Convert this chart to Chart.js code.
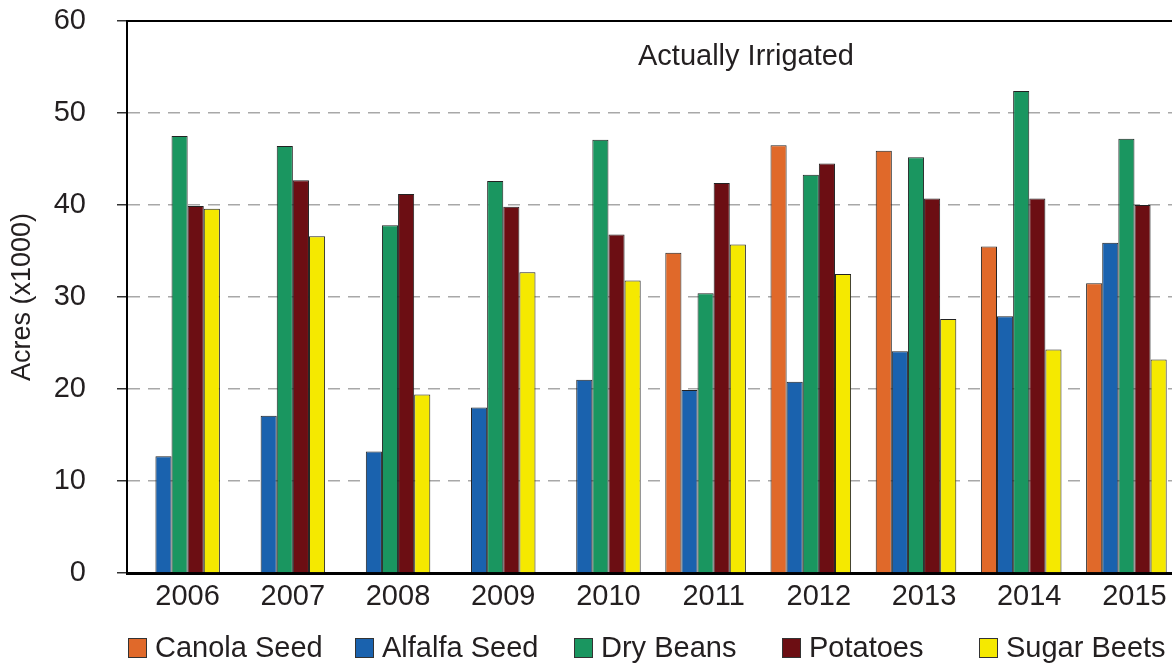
<!DOCTYPE html>
<html>
<head>
<meta charset="utf-8">
<script src="https://cdn.jsdelivr.net/npm/chart.js@4/dist/chart.umd.min.js"></script>
<style>
    body { margin: 0; overflow: hidden; background: #fff; }
    #wrap { position: relative; width: 1190px; height: 664px; }
    #legend { position: absolute; left: 0; top: 0; width: 1190px; height: 664px; pointer-events: none;
        font-family: "Liberation Sans", Arial, sans-serif; font-size: 29px; color: #231f20; }
    .item { position: absolute; top: 630px; white-space: nowrap; line-height: 34px; }
    .box { display: inline-block; width: 17px; height: 18px; border: 1px solid #333; vertical-align: -1px; margin-right: 8px; }
</style>
</head>
<body>
<div id="wrap">
    <canvas id="chart"></canvas>
    <div id="legend"></div>
</div>
<script>
// data
let years = ["2006", "2007", "2008", "2009", "2010", "2011", "2012", "2013", "2014", "2015"];
let canolaSeed = [null, null, null, null, null, 34.8, 46.5, 45.9, 35.5, 31.5];
let alfalfaSeed = [12.7, 17.1, 13.2, 18.0, 21.0, 19.9, 20.8, 24.1, 27.9, 35.9];
let dryBeans = [47.5, 46.4, 37.8, 42.6, 47.1, 30.4, 43.3, 45.2, 52.4, 47.2];
let potatoes = [39.9, 42.7, 41.2, 39.8, 36.8, 42.4, 44.5, 40.7, 40.7, 40.0];
let sugarBeets = [39.6, 36.6, 19.4, 32.7, 31.8, 35.7, 32.5, 27.6, 24.3, 23.2];
let yTicks = [0, 10, 20, 30, 40, 50, 60];

let seriesNames = ["Canola Seed", "Alfalfa Seed", "Dry Beans", "Potatoes", "Sugar Beets"];
let seriesColors = ["#e0692a", "#1a62ae", "#1a9660", "#6c0e13", "#f5e900"];
let legendLeft = [128, 355, 574, 782, 979];
// data

let fontName = "'Liberation Sans', Arial, sans-serif";
let textColor = "#231f20";

let datasets = [canolaSeed, alfalfaSeed, dryBeans, potatoes, sugarBeets].map(function (vals, i) {
    return {
        label: seriesNames[i],
        data: vals,
        backgroundColor: seriesColors[i],
        borderColor: "#222",
        borderWidth: 1,
        categoryPercentage: 0.766,
        barPercentage: 1
    };
});

// titre dans la zone + cadre du haut
let framePlugin = {
    id: "frame",
    afterDraw: function (chart) {
        let c = chart.ctx;
        let a = chart.chartArea;
        c.save();
        c.strokeStyle = "#000";
        c.lineWidth = 2;
        c.beginPath();
        c.moveTo(a.left, a.top);
        c.lineTo(a.right, a.top);
        c.stroke();
        c.fillStyle = textColor;
        c.font = "29px " + fontName;
        c.textAlign = "center";
        c.textBaseline = "middle";
        c.fillText("Actually Irrigated", a.left + 619, a.top + 36);
        c.restore();
    }
};

function noPad(scale) {
    scale.paddingTop = 0;
    scale.paddingBottom = 0;
    scale.paddingLeft = 0;
    scale.paddingRight = 0;
}

let ctx = document.getElementById("chart").getContext("2d");
let chart = new Chart(ctx, {
    type: "bar",
    data: { labels: years, datasets: datasets },
    options: {
        responsive: true,
        maintainAspectRatio: false,
        animation: false,
        layout: { padding: { top: 21, right: 11, left: 0, bottom: 0 } },
        plugins: { legend: { display: false }, tooltip: { enabled: false } },
        scales: {
            x: {
                grid: { display: false },
                border: { display: true, color: "#000", width: 3 },
                ticks: { color: textColor, font: { family: fontName, size: 29 }, padding: -1, labelOffset: 8, maxRotation: 0 },
                afterFit: function (scale) { scale.height = 91; noPad(scale); }
            },
            y: {
                min: 0,
                max: 60,
                afterBuildTicks: function (scale) { scale.ticks = yTicks.map(function (v) { return { value: v }; }); },
                grid: {
                    color: function (c) { return (c.tick && (c.tick.value === 0 || c.tick.value === 60)) ? "rgba(0,0,0,0)" : "#a8a8a8"; },
                    lineWidth: 1.5,
                    tickColor: "#333",
                    tickLength: 10
                },
                border: { display: true, color: "#000", width: 2, dash: [12, 8] },
                ticks: { color: textColor, font: { family: fontName, size: 29 }, padding: 31 },
                title: { display: true, text: "Acres (x1000)", color: textColor, font: { family: fontName, size: 27 }, padding: { top: 6, bottom: 0 } },
                afterFit: function (scale) { scale.width = 127; noPad(scale); }
            }
        }
    },
    plugins: [framePlugin]
});

// légende
let legend = document.getElementById("legend");
for (let i = 0; i < seriesNames.length; i++) {
    let item = document.createElement("div");
    item.className = "item";
    item.style.left = legendLeft[i] + "px";
    item.innerHTML = '<span class="box" style="background:' + seriesColors[i] + '"></span>' + seriesNames[i];
    legend.appendChild(item);
}
</script>
</body>
</html>
